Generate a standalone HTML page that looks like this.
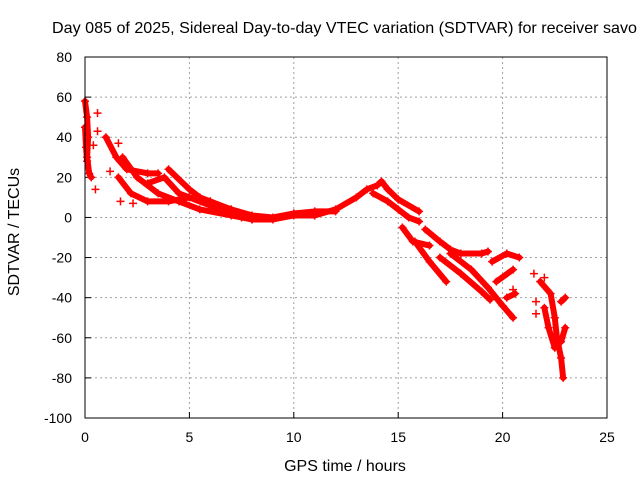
<!DOCTYPE html>
<html><head><meta charset="utf-8"><style>
body{margin:0;background:#fff;}
svg text{font-family:"Liberation Sans",sans-serif;font-size:14px;fill:#000;}
svg text.big{font-size:16px;}
</style></head><body>
<svg id="c" width="640" height="480" xmlns="http://www.w3.org/2000/svg">
<rect width="640" height="480" fill="#fff"/>
<text class="big" x="52" y="33" textLength="585" lengthAdjust="spacingAndGlyphs">Day 085 of 2025, Sidereal Day-to-day VTEC variation (SDTVAR) for receiver savo</text>
<text class="big" x="345" y="471" text-anchor="middle">GPS time / hours</text>
<text class="big" transform="translate(19,232) rotate(-90)" text-anchor="middle">SDTVAR / TECUs</text>
<g id="grid"></g><g id="marks"></g>
<rect x="85" y="57" width="522" height="361" fill="none" stroke="#000"/>
</svg>
<script>
const xTicks=[0,5,10,15,20,25];
const yTicks=[80,60,40,20,0,-20,-40,-60,-80,-100];
const tracks=[
[[0,58],[0.1,50],[0.15,40],[0.1,30],[0.2,22],[0.3,20]],
[[0,45],[0.05,35],[0.1,28]],
[[1.0,40],[1.5,30],[2,24],[3,22],[3.5,22]],
[[1.8,30],[2.5,20],[3.5,12],[4.5,8],[5.5,4],[7,1],[8,-1]],
[[1.6,20],[2.2,12],[3,8],[4,8],[5,10],[6,6],[7,2]],
[[4,24],[5,14],[5.5,10],[6,8],[7,4],[8,0]],
[[3,17],[3.8,20],[4.5,12],[6,6],[7.5,0]],
[[6,8],[7,2],[8,-1],[9,-1],[10,1],[11,1],[12,4],[13,10],[13.5,14],[14,16],[14.2,18],[14.5,14]],
[[7,4],[8,1],[9,0],[10,2],[11,3],[12,3]],
[[14.5,14],[15,9],[16,3]],
[[13.8,12],[14.5,8],[15,4],[15.5,0],[16,-2]],
[[15.2,-5],[15.7,-12],[16.5,-14]],
[[16.3,-6],[17,-12],[17.5,-16],[18,-18],[19,-18],[19.3,-17]],
[[15.8,-12],[16.5,-22],[17.3,-32]],
[[17,-20],[18,-28],[19,-37],[19.4,-41]],
[[17.5,-18],[18.5,-26],[19.3,-35],[20,-44],[20.5,-50]],
[[19.5,-22],[20.2,-18],[20.8,-20]],
[[19.7,-32],[20.5,-26]],
[[20.2,-40],[20.6,-38]],
[[21.8,-32],[22.3,-38],[22.5,-50],[22.6,-60],[22.8,-70],[22.9,-80]],
[[22,-45],[22.2,-55],[22.5,-65]],
[[23,-55],[22.8,-62]],
[[22.8,-42],[23,-40]]
];
const strays=[[0.6,52],[0.6,43],[0.5,14],[1.7,8],[1.2,23],[1.6,37],[2.3,7],[0.4,36],[21.5,-28],[22,-30],[21.6,-42],[21.6,-48],[20.5,-36]];
const X=t=>85+t*522/25, Y=v=>57+(80-v)*361/180;
const NS="http://www.w3.org/2000/svg";
const grid=document.getElementById('grid'), marks=document.getElementById('marks');
function mk(tag,a,p){const e=document.createElementNS(NS,tag);for(const k in a)e.setAttribute(k,a[k]);p.appendChild(e);return e;}
xTicks.forEach(t=>{
 if(t>0&&t<25){const l=mk('line',{x1:X(t),x2:X(t),y1:57,y2:418,stroke:'#a0a0a0','stroke-dasharray':'2,3'},grid);
 
 }
 mk('line',{x1:X(t),x2:X(t),y1:418,y2:412,stroke:'#000'},grid);
 const tx=mk('text',{x:X(t),y:442,'text-anchor':'middle'},grid);tx.textContent=t;
 
 
});
yTicks.forEach(v=>{
 if(v<80&&v>-100){const l=mk('line',{x1:85,x2:607,y1:Y(v),y2:Y(v),stroke:'#a0a0a0','stroke-dasharray':'2,3'},grid);
 
 }
 mk('line',{x1:85,x2:91,y1:Y(v),y2:Y(v),stroke:'#000'},grid);
 const tx=mk('text',{x:72,y:Y(v)+5,'text-anchor':'end'},grid);tx.textContent=v;
 
 
});
function plus(t,v){const p=mk('path',{d:`M${X(t)-4},${Y(v)}h8M${X(t)},${Y(v)-4}v8`,stroke:'#f00','stroke-width':1.5},marks);
 
 }
tracks.forEach(tr=>{
 const pl=mk('polyline',{points:tr.map(p=>X(p[0])+','+Y(p[1])).join(' '),fill:'none',stroke:'#f00','stroke-width':6,'stroke-linejoin':'round','stroke-linecap':'round'},marks);
 
 
 tr.forEach(p=>plus(p[0],p[1]));
});
strays.forEach(p=>plus(p[0],p[1]));
</script>
</body></html>
